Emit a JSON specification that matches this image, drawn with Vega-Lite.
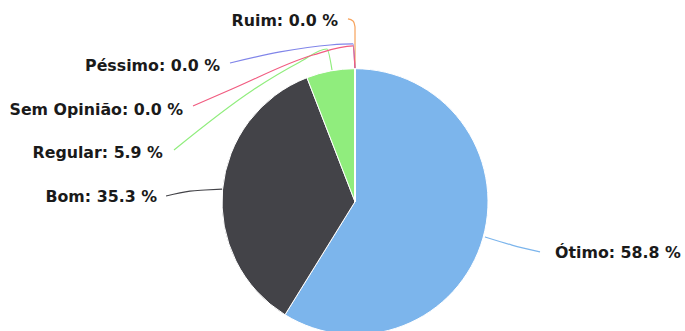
{
  "$schema": "https://vega.github.io/schema/vega-lite/v6.json",
  "width": 685,
  "height": 331,
  "padding": 0,
  "autosize": {"type": "none"},
  "background": "#ffffff",
  "config": {"view": {"stroke": null}},
  "datasets": {
    "slices": [
      {"nome": "Ótimo", "qtd": 10, "ordem": 1, "lx": 1.504, "ly": -0.386, "rotulo": "Ótimo: 58.8 %", "lado": "dir"},
      {"nome": "Bom", "qtd": 6, "ordem": 2, "lx": -1.489, "ly": 0.035, "rotulo": "Bom: 35.3 %", "lado": "esq"},
      {"nome": "Regular", "qtd": 1, "ordem": 3, "lx": -1.444, "ly": 0.366, "rotulo": "Regular: 5.9 %", "lado": "esq"},
      {"nome": "Ruim", "qtd": 0, "ordem": 4, "lx": -0.128, "ly": 1.359, "rotulo": "Ruim: 0.0 %", "lado": "esq"},
      {"nome": "Péssimo", "qtd": 0, "ordem": 5, "lx": -1.015, "ly": 1.02, "rotulo": "Péssimo: 0.0 %", "lado": "esq"},
      {"nome": "Sem Opinião", "qtd": 0, "ordem": 6, "lx": -1.293, "ly": 0.689, "rotulo": "Sem Opinião: 0.0 %", "lado": "esq"}
    ],
    "conectores": [
      {"nome": "Ótimo", "p": 1, "u": 1.391, "v": -0.378},
      {"nome": "Ótimo", "p": 2, "u": 1.18, "v": -0.326},
      {"nome": "Ótimo", "p": 3, "u": 0.977, "v": -0.265},
      {"nome": "Bom", "p": 1, "u": -1.421, "v": 0.043},
      {"nome": "Bom", "p": 2, "u": -1.241, "v": 0.08},
      {"nome": "Bom", "p": 3, "u": -1.128, "v": 0.088},
      {"nome": "Bom", "p": 4, "u": -1.0, "v": 0.095},
      {"nome": "Regular", "p": 1, "u": -1.361, "v": 0.389},
      {"nome": "Regular", "p": 2, "u": -0.767, "v": 0.84},
      {"nome": "Regular", "p": 3, "u": -0.414, "v": 1.05},
      {"nome": "Regular", "p": 4, "u": -0.211, "v": 1.148},
      {"nome": "Regular", "p": 5, "u": -0.173, "v": 0.99},
      {"nome": "Ruim", "p": 1, "u": -0.053, "v": 1.374},
      {"nome": "Ruim", "p": 2, "u": -0.015, "v": 1.359},
      {"nome": "Ruim", "p": 3, "u": 0, "v": 1.314},
      {"nome": "Ruim", "p": 4, "u": 0, "v": 0.998},
      {"nome": "Péssimo", "p": 1, "u": -0.94, "v": 1.043},
      {"nome": "Péssimo", "p": 2, "u": -0.564, "v": 1.126},
      {"nome": "Péssimo", "p": 3, "u": -0.188, "v": 1.178},
      {"nome": "Péssimo", "p": 4, "u": -0.015, "v": 1.186},
      {"nome": "Péssimo", "p": 5, "u": 0, "v": 0.998},
      {"nome": "Sem Opinião", "p": 1, "u": -1.218, "v": 0.72},
      {"nome": "Sem Opinião", "p": 2, "u": -0.925, "v": 0.847},
      {"nome": "Sem Opinião", "p": 3, "u": -0.316, "v": 1.103},
      {"nome": "Sem Opinião", "p": 4, "u": -0.015, "v": 1.171},
      {"nome": "Sem Opinião", "p": 5, "u": 0, "v": 0.998}
    ]
  },
  "layer": [
    {
      "data": {"name": "conectores"},
      "mark": {"type": "line", "strokeWidth": 1.2, "interpolate": "monotone"},
      "encoding": {
        "x": {"field": "u", "type": "quantitative", "scale": {"domain": [-2.6692, 2.4812], "nice": false, "zero": false}, "axis": null},
        "y": {"field": "v", "type": "quantitative", "scale": {"domain": [-0.9722, 1.5165], "nice": false, "zero": false}, "axis": null},
        "detail": {"field": "nome"},
        "order": {"field": "p", "type": "quantitative"},
        "color": {"field": "nome", "type": "nominal", "legend": null,
          "scale": {"domain": ["Ótimo", "Bom", "Regular", "Ruim", "Péssimo", "Sem Opinião"],
                    "range": ["#7cb5ec", "#434348", "#90ed7d", "#f7a35c", "#8085e9", "#f15c80"]}}
      }
    },
    {
      "data": {"name": "slices"},
      "mark": {"type": "arc", "outerRadius": 133, "stroke": "#ffffff", "strokeWidth": 1},
      "encoding": {
        "x": {"datum": 0, "type": "quantitative"},
        "y": {"datum": 0, "type": "quantitative"},
        "theta": {"field": "qtd", "type": "quantitative", "stack": true},
        "order": {"field": "ordem", "type": "quantitative"},
        "color": {"field": "nome", "type": "nominal", "legend": null}
      }
    },
    {
      "data": {"name": "slices"},
      "transform": [{"filter": "datum.lado == 'esq'"}],
      "mark": {"type": "text", "align": "right", "baseline": "middle", "font": "DejaVu Sans", "fontSize": 15.8, "fontWeight": "bold", "fill": "#1a1a1a"},
      "encoding": {
        "x": {"field": "lx", "type": "quantitative"},
        "y": {"field": "ly", "type": "quantitative"},
        "text": {"field": "rotulo"}
      }
    },
    {
      "data": {"name": "slices"},
      "transform": [{"filter": "datum.lado == 'dir'"}],
      "mark": {"type": "text", "align": "left", "baseline": "middle", "font": "DejaVu Sans", "fontSize": 15.8, "fontWeight": "bold", "fill": "#1a1a1a"},
      "encoding": {
        "x": {"field": "lx", "type": "quantitative"},
        "y": {"field": "ly", "type": "quantitative"},
        "text": {"field": "rotulo"}
      }
    }
  ]
}
